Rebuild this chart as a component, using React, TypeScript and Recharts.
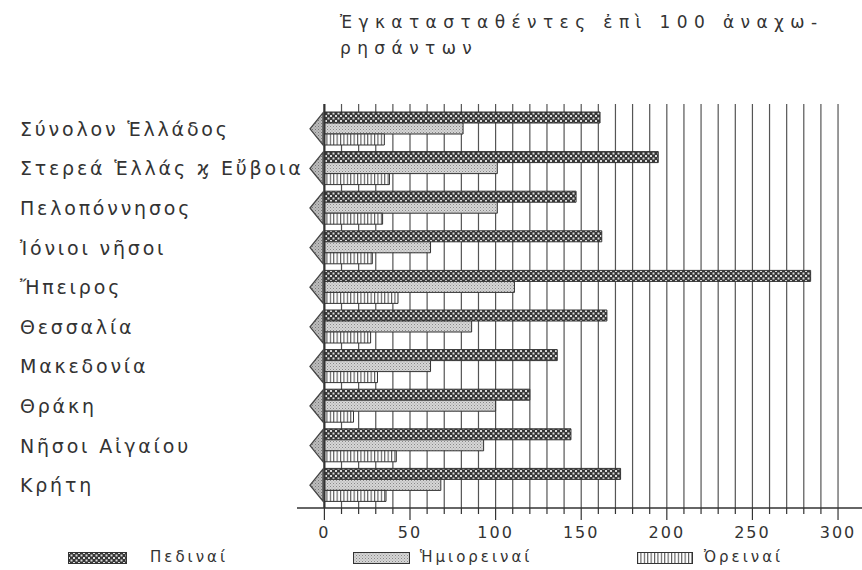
import React from 'react';
import { BarChart, Bar, XAxis, YAxis, CartesianGrid, ReferenceLine } from 'recharts';

const categories = [
    'Σύνολον Ἑλλάδος',
    'Στερεά Ἑλλάς ϗ Εὔβοια',
    'Πελοπόννησος',
    'Ἰόνιοι νῆσοι',
    'Ἤπειρος',
    'Θεσσαλία',
    'Μακεδονία',
    'Θράκη',
    'Νῆσοι Αἰγαίου',
    'Κρήτη',
];
const pediniai = [161, 195, 147, 162, 284, 165, 136, 120, 144, 173];
const imioreinai = [81, 101, 101, 62, 111, 86, 62, 100, 93, 68];
const oreinai = [35, 38, 34, 28, 43, 27, 31, 17, 42, 36];

const seriesNames = ['Πεδιναί', 'Ἡμιορειναί', 'Ὀρειναί'];
const titleLines = ['Ἐγκατασταθέντες ἐπὶ 100 ἀναχω-', 'ρησάντων'];
const xTicks = [0, 10, 20, 30, 40, 50, 60, 70, 80, 90, 100, 110, 120, 130, 140, 150, 160, 170, 180, 190, 200, 210, 220, 230, 240, 250, 260, 270, 280, 290, 300];
const xLabelTicks = [0, 50, 100, 150, 200, 250, 300];

const data = categories.map((name, i) => ({
    name,
    ped: pediniai[i],
    imi: imioreinai[i],
    ore: oreinai[i],
}));

const INK = '#333';
const FONT = '"DejaVu Sans", sans-serif';
const DOMAIN: [number, number] = [-16, 314];

// etiketa kategorije + trokutić lijevo od osi
const CategoryTick = (props: any) => {
    const { y, payload } = props;
    return (
        <g>
            <text
                x={20}
                y={y}
                dominantBaseline="central"
                fill={INK}
                fontFamily={FONT}
                fontSize={19}
                letterSpacing={2.8}
            >
                {payload.value}
            </text>
            <polygon
                points={`310,${y} 323,${y - 16} 323,${y + 16}`}
                fill="url(#pat-tri)"
                stroke="#444"
                strokeWidth={1.3}
            />
        </g>
    );
};

const ValueTick = (props: any) => {
    const { x, y, payload } = props;
    const major = xLabelTicks.includes(payload.value);
    return (
        <g>
            <line x1={x} x2={x} y1={y} y2={y + (major ? 12 : 6)} stroke={INK} strokeWidth={1.2} />
            {major && (
                <text
                    x={x}
                    y={y + 24}
                    textAnchor="middle"
                    dominantBaseline="central"
                    fill={INK}
                    fontFamily={FONT}
                    fontSize={16}
                    letterSpacing={2}
                >
                    {payload.value}
                </text>
            )}
        </g>
    );
};

const Swatch = ({ fill, w, h }: { fill: string; w: number; h: number }) => (
    <svg width={w} height={h} style={{ display: 'block' }}>
        <rect x={0.5} y={0.5} width={w - 1} height={h - 1} fill={fill} stroke={INK} strokeWidth={1} />
    </svg>
);

export default function App() {
    const legendItems = [
        { name: seriesNames[0], fill: 'url(#pat-ped)', left: 68, textLeft: 150, w: 59 },
        { name: seriesNames[1], fill: 'url(#pat-imi)', left: 353, textLeft: 420, w: 57 },
        { name: seriesNames[2], fill: 'url(#pat-ore)', left: 637, textLeft: 704, w: 56 },
    ];

    return (
        <div style={{ position: 'absolute', left: 0, top: 0, width: 862, height: 570, background: '#fff' }}>
            {titleLines.map((line, i) => (
                <div
                    key={i}
                    style={{
                        position: 'absolute',
                        left: 340,
                        top: 10 + i * 26,
                        fontFamily: FONT,
                        fontSize: 17,
                        letterSpacing: 6.4,
                        color: INK,
                        whiteSpace: 'nowrap',
                        lineHeight: '24px',
                    }}
                >
                    {line}
                </div>
            ))}

            <BarChart
                width={862}
                height={570}
                data={data}
                layout="vertical"
                margin={{ top: 104, right: 0, bottom: 22, left: 0 }}
                barSize={11}
                barGap={0}
                barCategoryGap={0}
            >
                <defs>
                    <pattern id="pat-ped" width={5} height={5} patternUnits="userSpaceOnUse">
                        <rect width={5} height={5} fill="#363636" />
                        <rect x={0} y={0} width={2} height={2} fill="#dcdcdc" />
                        <rect x={2.5} y={2.5} width={2} height={2} fill="#dcdcdc" />
                    </pattern>
                    <pattern id="pat-imi" width={3} height={3} patternUnits="userSpaceOnUse">
                        <rect width={3} height={3} fill="#d6d6d6" />
                        <rect x={0} y={0} width={1} height={1} fill="#888" />
                        <rect x={1.5} y={1.5} width={1} height={1} fill="#a0a0a0" />
                    </pattern>
                    <pattern id="pat-tri" width={3} height={3} patternUnits="userSpaceOnUse">
                        <rect width={3} height={3} fill="#bdbdbd" />
                        <rect x={0} y={0} width={1} height={1} fill="#777" />
                        <rect x={1.5} y={1.5} width={1} height={1} fill="#888" />
                    </pattern>
                    <pattern id="pat-ore" width={3.4} height={4} patternUnits="userSpaceOnUse">
                        <rect width={3.4} height={4} fill="#fff" />
                        <rect x={0} y={0} width={1.1} height={4} fill="#555" />
                    </pattern>
                </defs>
                <CartesianGrid horizontal={false} verticalValues={xTicks} stroke="#555" strokeWidth={1.2} />
                <XAxis
                    type="number"
                    domain={DOMAIN}
                    allowDataOverflow
                    ticks={xTicks}
                    interval={0}
                    tickSize={0}
                    tickMargin={0}
                    tick={<ValueTick />}
                    tickLine={false}
                    height={40}
                    axisLine={{ stroke: INK, strokeWidth: 1.6 }}
                />
                <XAxis
                    xAxisId="top"
                    orientation="top"
                    type="number"
                    domain={DOMAIN}
                    allowDataOverflow
                    tick={false}
                    tickLine={false}
                    height={0}
                    axisLine={{ stroke: INK, strokeWidth: 1.6 }}
                />
                <YAxis
                    type="category"
                    dataKey="name"
                    width={297}
                    axisLine={false}
                    tickLine={false}
                    tickSize={0}
                    tickMargin={0}
                    interval={0}
                    padding={{ top: 5, bottom: 3 }}
                    tick={<CategoryTick />}
                />
                <ReferenceLine x={0} stroke={INK} strokeWidth={2.2} />
                <Bar dataKey="ped" name={seriesNames[0]} fill="url(#pat-ped)" stroke={INK} strokeWidth={1} isAnimationActive={false} />
                <Bar dataKey="imi" name={seriesNames[1]} fill="url(#pat-imi)" stroke={INK} strokeWidth={1} isAnimationActive={false} />
                <Bar dataKey="ore" name={seriesNames[2]} fill="url(#pat-ore)" stroke={INK} strokeWidth={1} isAnimationActive={false} />
            </BarChart>

            {legendItems.map((it) => (
                <React.Fragment key={it.name}>
                    <div style={{ position: 'absolute', left: it.left, top: 552 }}>
                        <Swatch fill={it.fill} w={it.w} h={12} />
                    </div>
                    <div
                        style={{
                            position: 'absolute',
                            left: it.textLeft,
                            top: 546,
                            fontFamily: FONT,
                            fontSize: 15,
                            letterSpacing: 3,
                            color: INK,
                            lineHeight: '22px',
                            whiteSpace: 'nowrap',
                        }}
                    >
                        {it.name}
                    </div>
                </React.Fragment>
            ))}
        </div>
    );
}
